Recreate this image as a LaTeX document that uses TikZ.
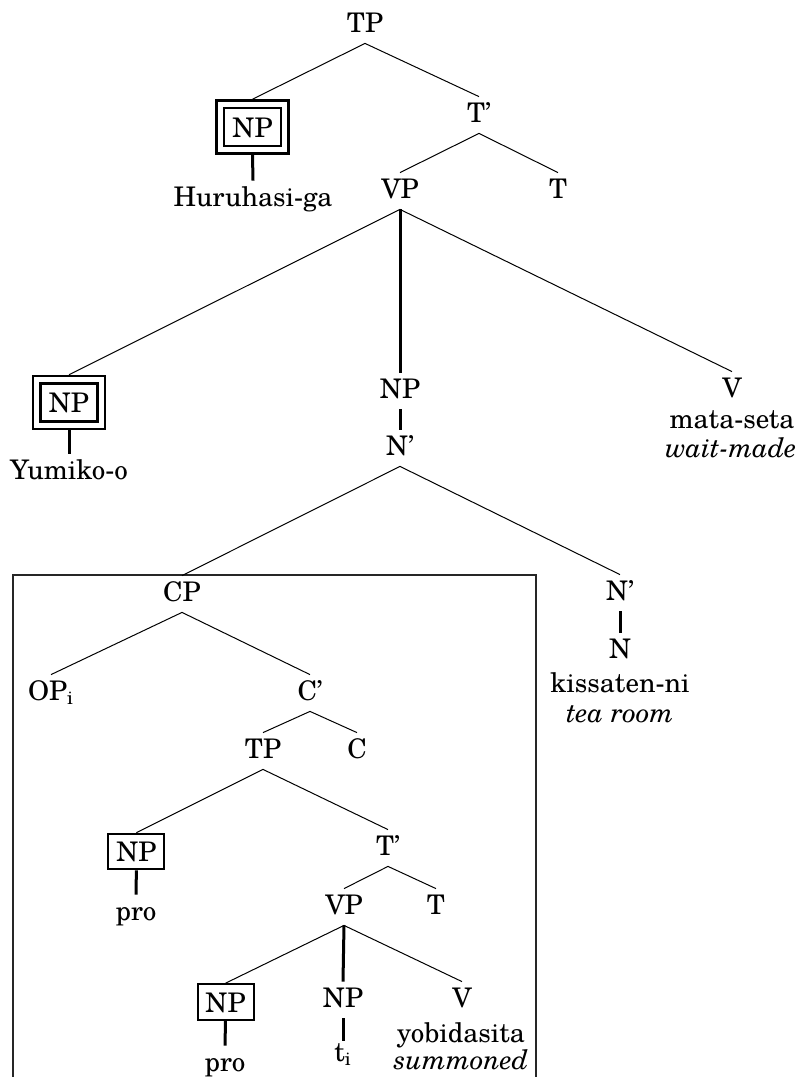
\documentclass[tikz,border=0pt]{standalone}
\usepackage{fontspec}
\setmainfont{TeX Gyre Schola}
\newcommand{\treefont}{\fontsize{13.5}{16}\selectfont}
\tikzset{
  cat/.style={font=\treefont, inner xsep=1pt, inner ysep=2pt, text height=10.5pt, text depth=3.5pt, anchor=base},
  gloss/.style={font=\treefont, inner sep=0pt, anchor=base},
  npbox/.style={font=\treefont, draw, line width=1pt, inner sep=0pt, text height=10pt, text depth=0pt, minimum width=28pt, minimum height=17.8pt},
  npdbox/.style={npbox, double, line width=1.3pt, double distance=2.5pt, minimum width=32.2pt, minimum height=22.7pt, outer sep=2.55pt},
  branch/.style={line width=0.5pt},
  unary/.style={line width=1.5pt},
  frame/.style={draw=black!85, line width=0.6pt}
}

\begin{document}
\begin{tikzpicture}[x=0.5pt, y=-0.5pt]
    \useasboundingbox (0,0) rectangle (801,1077);

    % matrix clause
    \node[cat] (tp) at (365,32) {TP};
    \node[npdbox] (np1) at (252.5,127) {NP};
    \node[cat] (huru) at (253,206) {Huruhasi-ga};
    \node[cat] (tbar1) at (479,122) {T'};
    \node[cat] (vp1) at (400,198) {VP};
    \node[cat] (t1) at (558,198) {T};
    \node[npdbox] (np2) at (69,402.5) {NP};
    \node[cat] (yumiko) at (69,479) {Yumiko-o};
    \node[cat] (np3) at (400,398) {NP};
    \node[cat] (nbar1) at (400,455) {N'};
    \node[cat] (v1) at (732,397) {V};
    \node[gloss] (v1a) at (732,428) {mata-seta};
    \node[gloss] (v1b) at (731,457) {\textit{wait-made}};
    \node[cat] (nbar2) at (620,600) {N'};
    \node[cat] (n1) at (620,658) {N};
    \node[gloss] (n1a) at (620,692) {kissaten-ni};
    \node[gloss] (n1b) at (620,722) {\textit{tea room}};

    % relative clause
    \node[cat] (cp) at (182,601) {CP};
    \node[cat] (op) at (51,700) {OP\textsubscript{i}};
    \node[cat] (cbar) at (310,700) {C'};
    \node[cat] (tp2) at (263,758) {TP};
    \node[cat] (c) at (357,758) {C};
    \node[npbox] (np4) at (136.4,851.5) {NP};
    \node[cat] (pro1) at (136,920) {pro};
    \node[cat] (tbar2) at (388,855) {T'};
    \node[cat] (vp2) at (344,914) {VP};
    \node[cat] (t2) at (436,914) {T};
    \node[npbox] (np5) at (225.5,1002) {NP};
    \node[cat] (pro2) at (225,1071) {pro};
    \node[cat] (np6) at (343,1007) {NP};
    \node[cat, text height=8pt] (ti) at (343,1061) {t\textsubscript{i}};
    \node[cat] (v2) at (462,1007) {V};
    \node[gloss] (v2a) at (461,1042) {yobidasita};
    \node[gloss] (v2b) at (461,1069) {\textit{summoned}};

    % box round the relative clause
    \draw[frame] (13,575) rectangle (536,1095);

    \draw[branch] (tp.south) -- (np1.north);
    \draw[branch] (tp.south) -- (tbar1.north);
    \draw[unary] (np1.south) -- (huru.north);
    \draw[branch] (tbar1.south) -- (vp1.north);
    \draw[branch] (tbar1.south) -- (t1.north);
    \draw[branch] (vp1.south) -- (np2.north);
    \draw[unary] (vp1.south) -- (np3.north);
    \draw[branch] (vp1.south) -- (v1.north);
    \draw[unary] (np2.south) -- (yumiko.north);
    \draw[unary] (np3.south) -- (nbar1.north);
    \draw[branch] (nbar1.south) -- (cp.north);
    \draw[branch] (nbar1.south) -- (nbar2.north);
    \draw[unary] (nbar2.south) -- (n1.north);

    \draw[branch] (cp.south) -- (op.north);
    \draw[branch] (cp.south) -- (cbar.north);
    \draw[branch] (cbar.south) -- (tp2.north);
    \draw[branch] (cbar.south) -- (c.north);
    \draw[branch] (tp2.south) -- (np4.north);
    \draw[branch] (tp2.south) -- (tbar2.north);
    \draw[unary] (np4.south) -- (pro1.north);
    \draw[branch] (tbar2.south) -- (vp2.north);
    \draw[branch] (tbar2.south) -- (t2.north);
    \draw[branch] (vp2.south) -- (np5.north);
    \draw[unary] (vp2.south) -- (np6.north);
    \draw[branch] (vp2.south) -- (v2.north);
    \draw[unary] (np5.south) -- (pro2.north);
    \draw[unary] (np6.south) -- (ti.north);
\end{tikzpicture}
\end{document}
